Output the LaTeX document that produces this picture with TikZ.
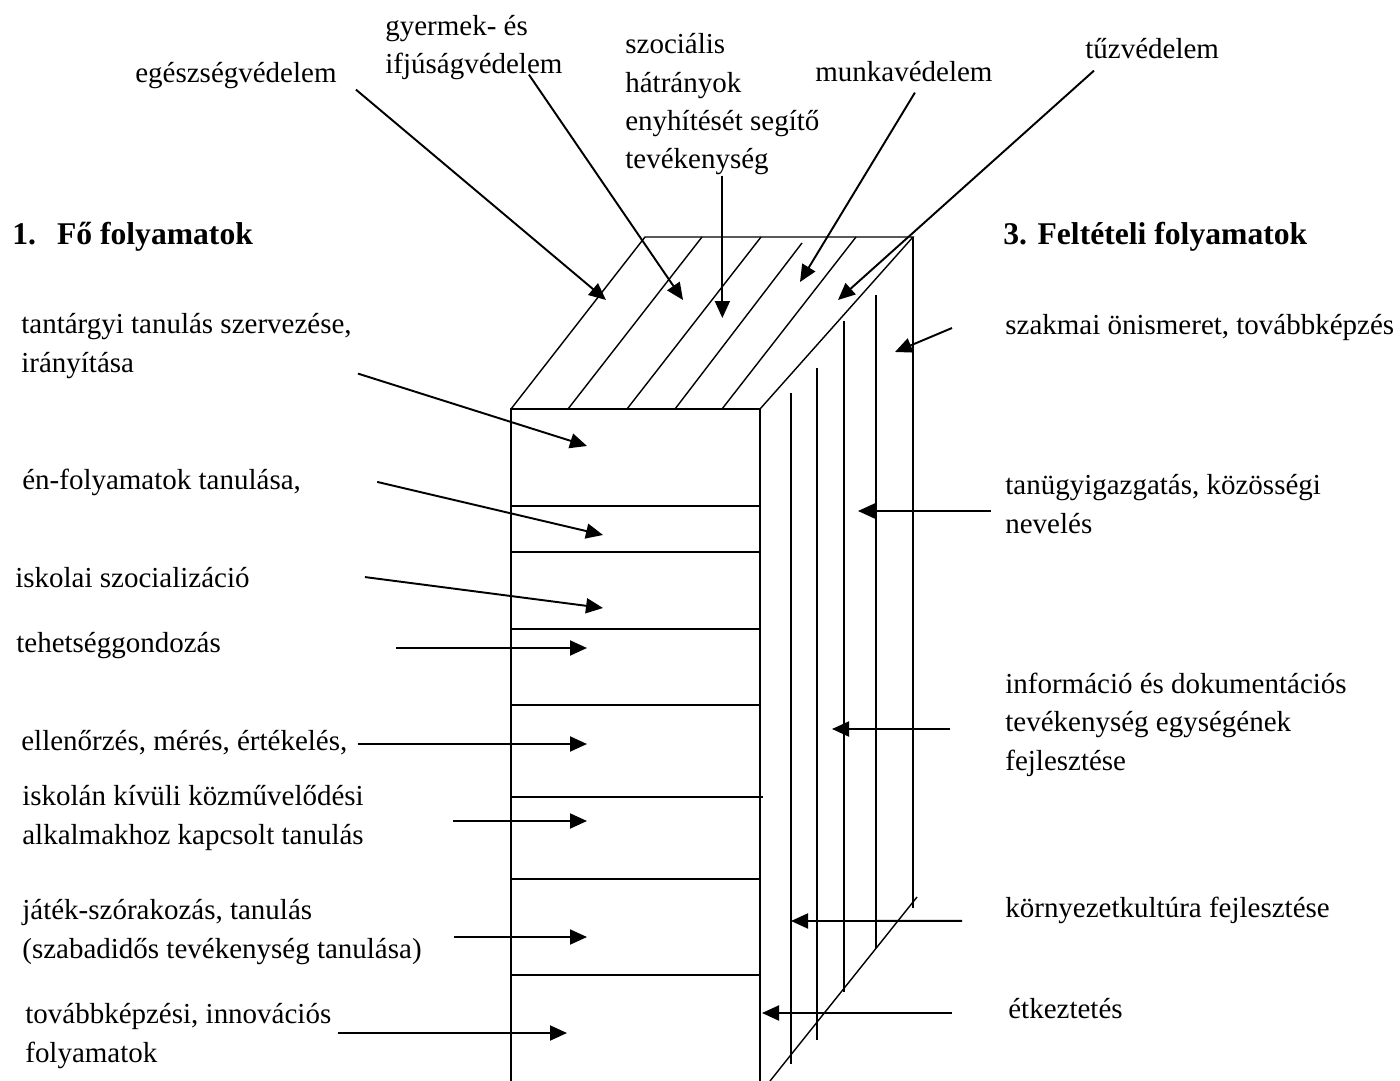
\documentclass[tikz,border=0pt]{standalone}
\usepackage{fontspec}
\setmainfont{Liberation Serif}
\usetikzlibrary{arrows.meta}

\tikzset{
  el/.style={line width=0.8pt},
  nyil/.style={line width=1.1pt, -{Triangle[length=0.34cm,width=0.3cm]}},
  felirat/.style={inner sep=0pt, anchor=base west, align=left, font=\fontsize{16.5}{21.9}\selectfont},
  cim/.style={felirat, font=\fontsize{18}{22}\selectfont\bfseries},
}

\begin{document}
\begin{tikzpicture}[x=0.02cm, y=-0.02cm]
        \useasboundingbox (0,0) rectangle (1400,1081);

        % Előlap
        \coordinate (elobal) at (511,409);
        \coordinate (elojobb) at (760,409);
        \draw[el] (511,1081) -- (elobal) -- (elojobb) -- (760,1081);
        \foreach \y in {506,552,629,705,879,975}
            \draw[el] (511,\y) -- (760,\y);
        \draw[el] (511,797) -- (763,797);

        % Tetőlap
        \coordinate (hatsobal) at (645,237);
        \coordinate (hatsojobb) at (913,237);
        \draw[el] (elobal) -- (hatsobal) -- (hatsojobb) -- (elojobb);
        \foreach \x in {568, 627, 722}
            \draw[el] (\x,409) -- ++(134,-172);
        \draw[el] (675,409) -- (802,243);

        % Oldallap
        \draw[el] (hatsojobb) -- (913,908);
        \foreach \x/\fent/\lent in {791/393/1064, 817/368/1040, 844/321/992, 876/295/948}
            \draw[el] (\x,\fent) -- (\x,\lent);
        \draw[el] (917,897) -- (770,1081);

        % Feliratok fent
        \node[felirat] (egeszseg) at (135,83) {egészségvédelem};
        \node[felirat] (gyermek) at (385,74) {gyermek- és\\ifjúságvédelem};
        \node[felirat] (szocialis) at (625,169) {szociális\\hátrányok\\enyhítését segítő\\tevékenység};
        \node[felirat] (munka) at (815,82) {munkavédelem};
        \node[felirat] (tuz) at (1085,59) {tűzvédelem};

        % Feliratok bal oldalt
        \node[cim] (fo) at (12,245) {1.\hspace{0.42cm}Fő folyamatok};
        \node[felirat] (tantargyi) at (21,372) {tantárgyi tanulás szervezése,\\irányítása};
        \node[felirat] (en) at (22,489) {én-folyamatok tanulása,};
        \node[felirat] (iskolai) at (15,587) {iskolai szocializáció};
        \node[felirat] (tehetseg) at (16,652) {tehetséggondozás};
        \node[felirat] (ellenorzes) at (21,750) {ellenőrzés, mérés, értékelés,};
        \node[felirat] (iskolan) at (22,844) {iskolán kívüli közművelődési\\alkalmakhoz kapcsolt tanulás};
        \node[felirat] (jatek) at (22,958) {játék-szórakozás, tanulás\\(szabadidős tevékenység tanulása)};
        \node[felirat] (tovabbkepzesi) at (25,1062) {továbbképzési, innovációs\\folyamatok};

        % Feliratok jobb oldalt
        \node[cim] (felteteli) at (1003,245) {3. Feltételi folyamatok};
        \node[felirat] (szakmai) at (1005,335) {szakmai önismeret, továbbképzés};
        \node[felirat] (tanugy) at (1005,533) {tanügyigazgatás, közösségi\\nevelés};
        \node[felirat] (informacio) at (1005,770) {információ és dokumentációs\\tevékenység egységének\\fejlesztése};
        \node[felirat] (kornyezet) at (1005,917) {környezetkultúra fejlesztése};
        \node[felirat] (etkeztetes) at (1008,1018) {étkeztetés};

        % Célpontok
        \coordinate (c-egeszseg) at (606,300);
        \coordinate (c-gyermek) at (683,300);
        \coordinate (c-szocialis) at (722,318);
        \coordinate (c-munka) at (800,282);
        \coordinate (c-tuz) at (838,300);
        \coordinate (c-tantargyi) at (587,446);
        \coordinate (c-en) at (603,535);
        \coordinate (c-iskolai) at (603,608);
        \coordinate (c-tehetseg) at (587,648);
        \coordinate (c-ellenorzes) at (587,744);
        \coordinate (c-iskolan) at (587,821);
        \coordinate (c-jatek) at (587,937);
        \coordinate (c-tovabb) at (567,1033);
        \coordinate (c-szakmai) at (895,352);
        \coordinate (c-tanugy) at (858,511);
        \coordinate (c-informacio) at (832,729);
        \coordinate (c-kornyezet) at (791,921);
        \coordinate (c-etkeztetes) at (762,1013);

        % Nyilak
        \draw[nyil] ([xshift=0.38cm]egeszseg.south east) -- (c-egeszseg);
        \draw[nyil] ([xshift=1.1cm,yshift=0.12cm]gyermek.south) -- (c-gyermek);
        \draw[nyil] (szocialis.south) -- (szocialis.south |- c-szocialis);
        \draw[nyil] ([xshift=0.22cm,yshift=-0.2cm]munka.south) -- (c-munka);
        \draw[nyil] ([xshift=0.18cm,yshift=-0.22cm]tuz.south west) -- (c-tuz);

        \draw[nyil] ([xshift=0.12cm,yshift=0.1cm]tantargyi.south east) -- (c-tantargyi);
        \draw[nyil] ([xshift=1.52cm]en.east) -- (c-en);
        \draw[nyil] ([xshift=2.3cm]iskolai.east) -- (c-iskolai);
        \draw[nyil] (tehetseg.east |- c-tehetseg) ++(3.5cm,0) -- (c-tehetseg);
        \draw[nyil] (ellenorzes.east |- c-ellenorzes) ++(0.2cm,0) -- (c-ellenorzes);
        \draw[nyil] (iskolan.east |- c-iskolan) ++(1.78cm,0) -- (c-iskolan);
        \draw[nyil] (jatek.east |- c-jatek) ++(0.64cm,0) -- (c-jatek);
        \draw[nyil] (tovabbkepzesi.east |- c-tovabb) ++(0.12cm,0) -- (c-tovabb);

        \draw[nyil] ([xshift=-1.06cm]szakmai.west) -- (c-szakmai);
        \draw[nyil] (tanugy.west |- c-tanugy) ++(-0.28cm,0) -- (c-tanugy);
        \draw[nyil] (informacio.west |- c-informacio) ++(-1.1cm,0) -- (c-informacio);
        \draw[nyil] ([xshift=-0.86cm,yshift=-0.22cm]kornyezet.west) -- (c-kornyezet);
        \draw[nyil] (etkeztetes.west |- c-etkeztetes) ++(-1.12cm,0) -- (c-etkeztetes);
\end{tikzpicture}
\end{document}
